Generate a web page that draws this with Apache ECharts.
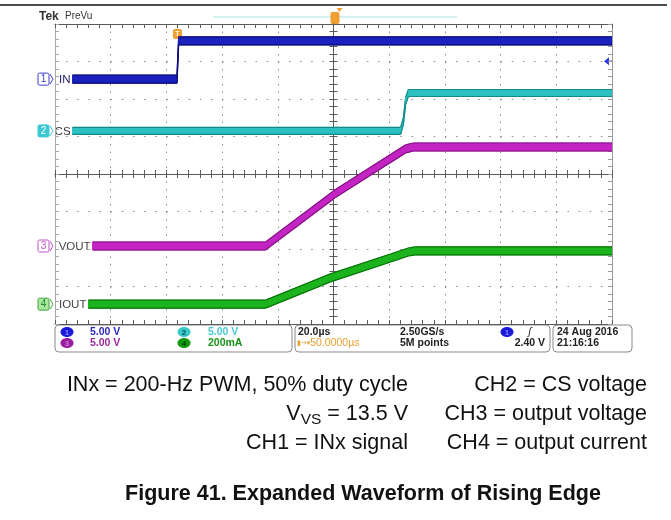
<!DOCTYPE html>
<html><head><meta charset="utf-8">
<script src="https://cdn.jsdelivr.net/npm/echarts@6/dist/echarts.min.js"></script>
<style>html,body{margin:0;padding:0;background:#fff}#c{width:671px;height:520px}</style>
</head><body><div id="c"></div>
<script>
// ---- data: time in µs (20 µs/div, 0 = screen centre), vertical position in divisions ----
const ch1Time = [-93.7, -56.2, -55.6, 100];
const ch1Div  = [2.53, 2.53, 3.55, 3.55];
const ch2Time = [-93.7, 24.1, 25.1, 25.9, 26.9, 100];
const ch2Div  = [1.15, 1.15, 1.41, 1.95, 2.16, 2.16];
const ch3Time = [-86.5, -24.4, 0.7, 25.9, 28.7, 100];
const ch3Div  = [-1.92, -1.92, -0.52, 0.67, 0.72, 0.72];
const ch4Time = [-88, -24.4, -1.1, 20.5, 26.9, 29.4, 100];
const ch4Div  = [-3.47, -3.47, -2.77, -2.24, -2.08, -2.05, -2.05];
const chNums  = ['1', '2', '3', '4'];
const chNames = ['IN', 'CS', 'VOUT', 'IOUT'];
const chScales = ['5.00 V', '5.00 V', '5.00 V', '200mA'];
const ch1VoltsPerDiv = 5.0;
const trigLevelV = 2.40;
const timeMin = -100, timeMax = 100, timeStep = 20;
const divMin = -4, divMax = 4, divStep = 1;
const noteLeft  = ['INx = 200-Hz PWM, 50% duty cycle', 'V{s|VS} = 13.5 V', 'CH1 = INx signal'];
const noteRight = ['CH2 = CS voltage', 'CH3 = output voltage', 'CH4 = output current'];
const figTitle = 'Figure 41. Expanded Waveform of Rising Edge';

// ---- styles ----
const FONT = '"Liberation Sans", Arial, sans-serif';
const traces = [
  {t: ch1Time, v: ch1Div, fill: '#1a22bc', edge: '#0c0c78', thick: 8, box: '#ffffff', boxStroke: '#3a3ad0', numColor: '#3a3ad0', nameColor: '#20206a'},
  {t: ch2Time, v: ch2Div, fill: '#2cc0c0', edge: '#168888', thick: 7, box: '#3cc8d0', boxStroke: '#3cc8d0', numColor: '#ffffff', nameColor: '#333333'},
  {t: ch3Time, v: ch3Div, fill: '#c424c4', edge: '#861686', thick: 8, box: '#ffffff', boxStroke: '#c050c8', numColor: '#c050c8', nameColor: '#444444'},
  {t: ch4Time, v: ch4Div, fill: '#1cb41c', edge: '#0c760c', thick: 8, box: '#a8e8a0', boxStroke: '#40a040', numColor: '#2a8a2a', nameColor: '#444444'}
];

function segs(t, v) { const o = []; for (let i = 0; i < t.length - 1; i++) o.push([t[i], v[i], t[i + 1], v[i + 1]]); return o; }
function traceSeries(tr) {
  return {
    type: 'custom', coordinateSystem: 'cartesian2d', xAxisIndex: 0, yAxisIndex: 0, clip: true, silent: true, z: 5,
    data: segs(tr.t, tr.v), encode: {x: [0, 2], y: [1, 3]},
    renderItem: function (params, api) {
      const a = api.coord([api.value(0), api.value(1)]);
      const b = api.coord([api.value(2), api.value(3)]);
      const h = tr.thick / 2;
      return {type: 'group', children: [
        {type: 'polygon', shape: {points: [[a[0], a[1] - h], [b[0], b[1] - h], [b[0], b[1] + h], [a[0], a[1] + h]]}, style: {fill: tr.fill, stroke: tr.fill, lineWidth: 1}},
        {type: 'polyline', shape: {points: [[a[0], a[1] - h], [b[0], b[1] - h]]}, style: {stroke: tr.edge, lineWidth: 1.2, fill: null}},
        {type: 'polyline', shape: {points: [[a[0], a[1] + h], [b[0], b[1] + h]]}, style: {stroke: tr.edge, lineWidth: 1.2, fill: null}}
      ]};
    }
  };
}

function ax(kind, pos, color, extra) {
  const base = {
    type: 'value', position: pos,
    min: kind === 'x' ? timeMin : divMin, max: kind === 'x' ? timeMax : divMax, interval: kind === 'x' ? timeStep : divStep,
    axisLabel: {show: false}, splitLine: {show: false},
    axisLine: {show: true, onZero: false, lineStyle: {color: color, width: 1}},
    axisTick: {show: true, inside: true, length: 4, lineStyle: {color: color}},
    minorTick: {show: true, splitNumber: 5, length: 4, lineStyle: {color: color}}
  };
  return Object.assign(base, extra || {});
}
const onZeroLine = (c) => ({show: true, onZero: true, onZeroAxisIndex: 0, lineStyle: {color: c, width: 1}});

const chart = echarts.init(document.getElementById('c'));
chart.setOption({
  animation: false,
  grid: {left: 55, top: 24, width: 557, height: 300, show: false},
  xAxis: [
    ax('x', 'bottom', '#5a5a5a', {splitLine: {show: true, lineStyle: {color: '#8a8a8a', width: 1, type: [1.5, 6]}}}),
    ax('x', 'top', '#5a5a5a'),
    ax('x', 'bottom', '#5a5a5a', {axisLine: onZeroLine('#5a5a5a')}),
    ax('x', 'top', '#5a5a5a', {axisLine: onZeroLine('#5a5a5a')})
  ],
  yAxis: [
    ax('y', 'left', '#a8a8a8', {splitLine: {show: true, lineStyle: {color: '#8a8a8a', width: 1, type: [1.5, 9.64]}}}),
    ax('y', 'right', '#9a9a9a'),
    ax('y', 'left', '#5a5a5a', {axisLine: onZeroLine('#5a5a5a')}),
    ax('y', 'right', '#5a5a5a', {axisLine: onZeroLine('#5a5a5a')})
  ],
  series: traces.map(traceSeries)
});

// ---- decorations / labels ----
const P = (t, d) => chart.convertToPixel({xAxisIndex: 0, yAxisIndex: 0}, [t, d]);
const g = [];
// top rule and header
g.push({type: 'line', shape: {x1: 0, y1: 5, x2: 667, y2: 5}, style: {stroke: '#111', lineWidth: 1.6}});
g.push({type: 'text', x: 39, y: 17, style: {text: 'Tek', fontFamily: FONT, fontSize: 12, fontWeight: 'bold', fill: '#333', verticalAlign: 'middle'}});
g.push({type: 'text', x: 65, y: 16, style: {text: 'PreVu', fontFamily: FONT, fontSize: 10, fill: '#333', verticalAlign: 'middle'}});
g.push({type: 'line', shape: {x1: 213, y1: 17, x2: 457, y2: 17}, style: {stroke: '#c4eeee', lineWidth: 1.5}});
// horizontal position marker (top centre)
const pc = P(0, divMax);
g.push({type: 'rect', shape: {x: pc[0] - 3, y: 12, width: 9, height: 12, r: 2}, style: {fill: '#f0a030'}});
g.push({type: 'polygon', shape: {points: [[pc[0] + 3, 8], [pc[0] + 9, 8], [pc[0] + 6, 12]]}, style: {fill: '#f0a030'}});
// trigger point marker
const tp = P(ch1Time[1], divMax);
g.push({type: 'rect', shape: {x: tp[0] - 4, y: 29, width: 9, height: 10, r: 2}, style: {fill: '#f0a030'}});
g.push({type: 'text', x: tp[0] + 0.5, y: 34, style: {text: 'T', fontFamily: FONT, fontSize: 8, fontWeight: 'bold', fill: '#fff3d0', align: 'center', verticalAlign: 'middle'}});
// trigger level arrow (right edge)
const tl = P(timeMax, ch1Div[0] + trigLevelV / ch1VoltsPerDiv);
g.push({type: 'polygon', shape: {points: [[tl[0] - 8, tl[1]], [tl[0] - 3, tl[1] - 4], [tl[0] - 3, tl[1] + 4]]}, style: {fill: '#2a3ad8'}});
g.push({type: 'line', shape: {x1: tl[0] - 4, y1: tl[1], x2: tl[0], y2: tl[1]}, style: {stroke: '#2a3ad8', lineWidth: 1}});
// channel ground labels
traces.forEach((tr, i) => {
  const p = P(tr.t[0], tr.v[0]);
  const y = p[1];
  g.push({type: 'rect', shape: {x: 38, y: y - 6, width: 11, height: 12, r: 1.5}, style: {fill: tr.box, stroke: tr.boxStroke, lineWidth: 1}});
  g.push({type: 'text', x: 43.5, y: y + 0.5, style: {text: chNums[i], fontFamily: FONT, fontSize: 10, fill: tr.numColor, align: 'center', verticalAlign: 'middle'}});
  g.push({type: 'polyline', shape: {points: [[50, y - 5], [53, y], [50, y + 5]]}, style: {stroke: tr.boxStroke, lineWidth: 1, fill: null}});
  g.push({type: 'text', x: p[0] - 2, y: y + 0.5, style: {text: chNames[i], fontFamily: FONT, fontSize: 11.5, fill: tr.nameColor, align: 'right', verticalAlign: 'middle'}});
});
// readout boxes
const boxes = [[55, 237], [295, 255], [553, 79]];
boxes.forEach(b => g.push({type: 'rect', shape: {x: b[0], y: 325, width: b[1], height: 27, r: 4}, style: {fill: 'none', stroke: '#8a8a8a', lineWidth: 1}}));
const R1 = 332, R2 = 343;
const badge = (cx, cy, fill, txt, tc) => {
  g.push({type: 'ellipse', shape: {cx: cx, cy: cy, rx: 6.5, ry: 5}, style: {fill: fill}});
  g.push({type: 'text', x: cx, y: cy + 0.5, style: {text: txt, fontFamily: FONT, fontSize: 8, fontWeight: 'bold', fill: tc, align: 'center', verticalAlign: 'middle'}});
};
const rtext = (x, y, txt, col, align) => g.push({type: 'text', x: x, y: y, style: {text: txt, fontFamily: FONT, fontSize: 10.5, fontWeight: 'bold', fill: col, align: align || 'left', verticalAlign: 'middle'}});
badge(67, R1, '#1a1ad8', chNums[0], '#8080ff'); rtext(90, R1, chScales[0], '#2a2ab8');
badge(184, R1, '#38c8c8', chNums[1], '#0a5050'); rtext(208, R1, chScales[1], '#48c8d0');
badge(67, R2, '#9a1aa0', chNums[2], '#d080d8'); rtext(90, R2, chScales[2], '#9a2a9a');
badge(184, R2, '#109a10', chNums[3], '#0a400a'); rtext(208, R2, chScales[3], '#1a901a');
rtext(298, R1, '20.0µs', '#222');
rtext(400, R1, '2.50GS/s', '#222');
badge(507, R1, '#1a1ad8', chNums[0], '#8080ff');
g.push({type: 'text', x: 530, y: R1, style: {text: 'ʃ', fontFamily: '"DejaVu Sans"', fontSize: 10, fontStyle: 'italic', fill: '#222', align: 'center', verticalAlign: 'middle'}});
g.push({type: 'text', x: 297, y: R2, style: {text: '{i|▮→▾}50.0000µs', fontFamily: FONT, fontSize: 10.5, fill: '#e8a030', verticalAlign: 'middle', rich: {i: {fontFamily: '"DejaVu Sans"', fontSize: 7, fill: '#e8a030'}}}});
rtext(400, R2, '5M points', '#222');
rtext(545, R2, trigLevelV.toFixed(2) + ' V', '#222', 'right');
rtext(557, R1, '24 Aug 2016', '#222');
rtext(557, R2, '21:16:16', '#222');
// notes under the figure
const rowY = [385.5, 414.5, 443];
noteLeft.forEach((t, i) => g.push({type: 'text', x: 408, y: rowY[i], style: {text: t, fontFamily: FONT, fontSize: 21.5, lineHeight: 26, fill: '#111', align: 'right', verticalAlign: 'middle', rich: {s: {fontFamily: FONT, fontSize: 15.5, lineHeight: 13, verticalAlign: 'bottom', fill: '#111'}}}}));
noteRight.forEach((t, i) => g.push({type: 'text', x: 647, y: rowY[i], style: {text: t, fontFamily: FONT, fontSize: 21.5, fill: '#111', align: 'right', verticalAlign: 'middle'}}));
g.push({type: 'text', x: 363, y: 494.5, style: {text: figTitle, fontFamily: FONT, fontSize: 21.5, fontWeight: 'bold', fill: '#111', align: 'center', verticalAlign: 'middle'}});
chart.setOption({graphic: g});
</script></body></html>
